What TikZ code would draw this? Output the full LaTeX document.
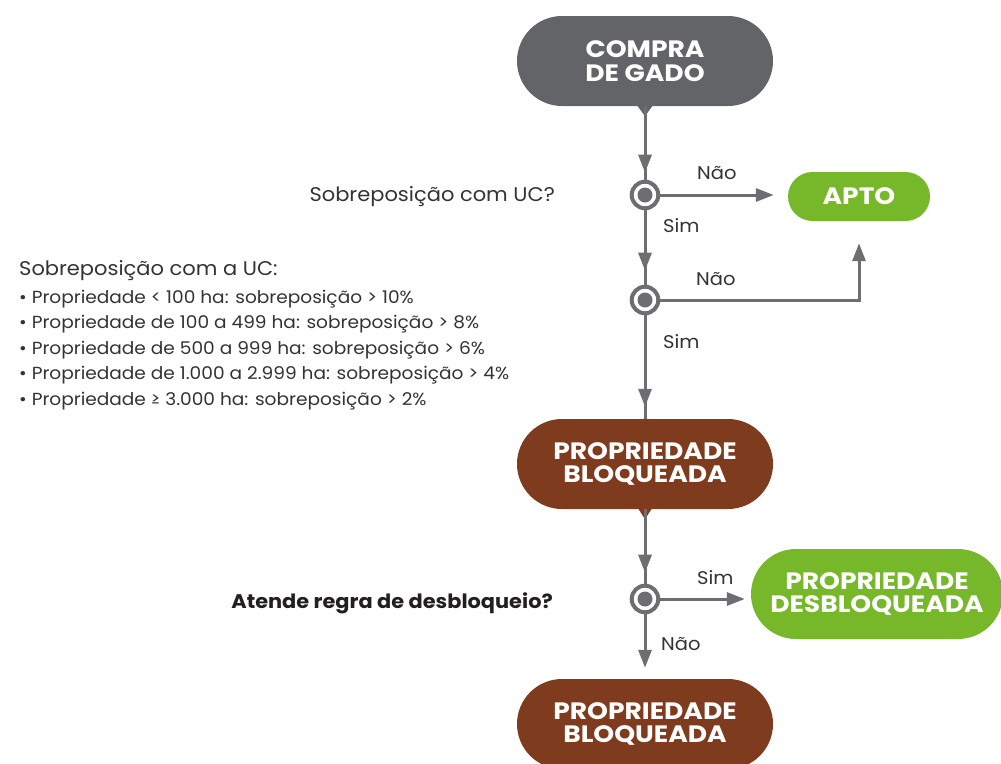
\documentclass[tikz,border=0pt]{standalone}
\usepackage{fontspec}
\setmainfont{Poppins}
\newfontfamily\bodyfont{Poppins}[FakeStretch=1.06]
\newfontfamily\boxfont{Poppins}[FakeStretch=1.12]
\usetikzlibrary{arrows.meta,decorations.markings}
\definecolor{boxgray}{HTML}{636467}
\definecolor{boxbrown}{HTML}{7F3B1E}
\definecolor{boxgreen}{HTML}{76B82A}
\definecolor{linegray}{HTML}{6D6E71}
\definecolor{txt}{HTML}{333333}
\definecolor{txtdark}{HTML}{231F20}
\begin{document}
\begin{tikzpicture}[x=1pt,y=-1pt,
  stadium/.style={rectangle, rounded corners=45pt, minimum width=256pt, minimum height=90pt,
    text=white, align=center, inner sep=0pt, font=\boxfont\fontsize{23.7}{23.5}\selectfont\bfseries},
  decision/.style={circle, draw=linegray, line width=4pt, fill=white, minimum size=26.6pt, inner sep=0pt,
    path picture={\fill[linegray] (path picture bounding box.center) circle (7.5pt);}},
  conn/.style={draw=linegray, line width=3pt},
  tipped/.style={conn, -{Triangle[length=18pt,width=13pt]}},
  midtip/.style={conn, postaction={decorate}, decoration={markings,
    mark=at position #1 with {\arrow{Triangle[length=18pt,width=13pt]}}}},
  lbl/.style={anchor=base west, inner sep=0pt, text=txt, font=\bodyfont\fontsize{18.4}{20}\selectfont},
  question/.style={anchor=base east, inner sep=0pt, text=txt, font=\bodyfont\fontsize{19.8}{22}\selectfont},
  listtxt/.style={anchor=base west, inner sep=0pt, text=txt, font=\bodyfont\fontsize{17.5}{18}\selectfont},
]
\useasboundingbox (0,0) rectangle (1001,763);
\begin{scope}
\clip (0,0) rectangle (1001,763);
% boxes
\node[stadium, fill=boxgray] (gado) at (645,61) {COMPRA\\DE GADO};
\node[stadium, fill=boxgreen, minimum width=142pt, minimum height=49pt, rounded corners=24.5pt] (apto) at (859,196.5) {APTO};
\node[stadium, fill=boxbrown] (bloq1) at (645,464) {PROPRIEDADE\\BLOQUEADA};
\node[stadium, fill=boxgreen, minimum width=252pt] (desb) at (877,594) {PROPRIEDADE\\DESBLOQUEADA};
\node[stadium, fill=boxbrown] (bloq2) at (645,724) {PROPRIEDADE\\BLOQUEADA};
% pointers
\fill[boxgray] ([xshift=-8pt,yshift=1pt]gado.south) -- ([xshift=8pt,yshift=1pt]gado.south) -- ([yshift=-10pt]gado.south) -- cycle;
\fill[boxbrown] ([xshift=-7pt,yshift=1pt]bloq1.south) -- ([xshift=7pt,yshift=1pt]bloq1.south) -- ([yshift=-10pt]bloq1.south) -- cycle;
% decisions
\node[decision] (c1) at (645,195) {};
\node[decision] (c2) at (645,300) {};
\node[decision] (c3) at (645,599) {};
% connectors
\path[midtip=-7pt] (gado.south) -- (c1.north);
\path[midtip=-14pt] (c1.south) -- (c2.north);
\path[midtip=-12pt] (c2.south) -- (bloq1.north);
\path[midtip=-11pt] (bloq1.south) -- (c3.north);
\draw[tipped, shorten >=14pt] (c1.east) -- (c1.east -| apto.west);
\draw[tipped, shorten >=22pt] (c2.east) -| (apto.south);
\draw[tipped, shorten >=6pt] (c3.east) -- (c3.east -| desb.west);
\draw[tipped, shorten >=11pt] (c3.south) -- (bloq2.north);
\end{scope}
% labels
\node[lbl] (n1) at (697,179) {Não};
\node[lbl] (s1) at (663,232) {Sim};
\node[lbl] (n2) at (696,285) {Não};
\node[lbl] (s2) at (663,348) {Sim};
\node[lbl] (s3) at (697,584) {Sim};
\node[lbl] (n3) at (661,650) {Não};
\node[question] (q1) at (555,201) {Sobreposição com UC?};
\node[question, text=txtdark, font=\bodyfont\fontsize{19.7}{22}\selectfont\bfseries] (q2) at (553,608) {Atende regra de desbloqueio?};
\node[anchor=base west, inner sep=0pt, text=txt, font=\bodyfont\fontsize{19.8}{22}\selectfont] (lh) at (19,275) {Sobreposição com a UC:};
\node[listtxt] (l1) at (19,303) {• Propriedade < 100 ha: sobreposição > 10\%};
\node[listtxt] (l2) at (19,328.5) {• Propriedade de 100 a 499 ha: sobreposição > 8\%};
\node[listtxt] (l3) at (19,354) {• Propriedade de 500 a 999 ha: sobreposição > 6\%};
\node[listtxt] (l4) at (19,379.5) {• Propriedade de 1.000 a 2.999 ha: sobreposição > 4\%};
\node[listtxt] (l5) at (19,405) {• Propriedade ≥ 3.000 ha: sobreposição > 2\%};
\end{tikzpicture}
\end{document}
